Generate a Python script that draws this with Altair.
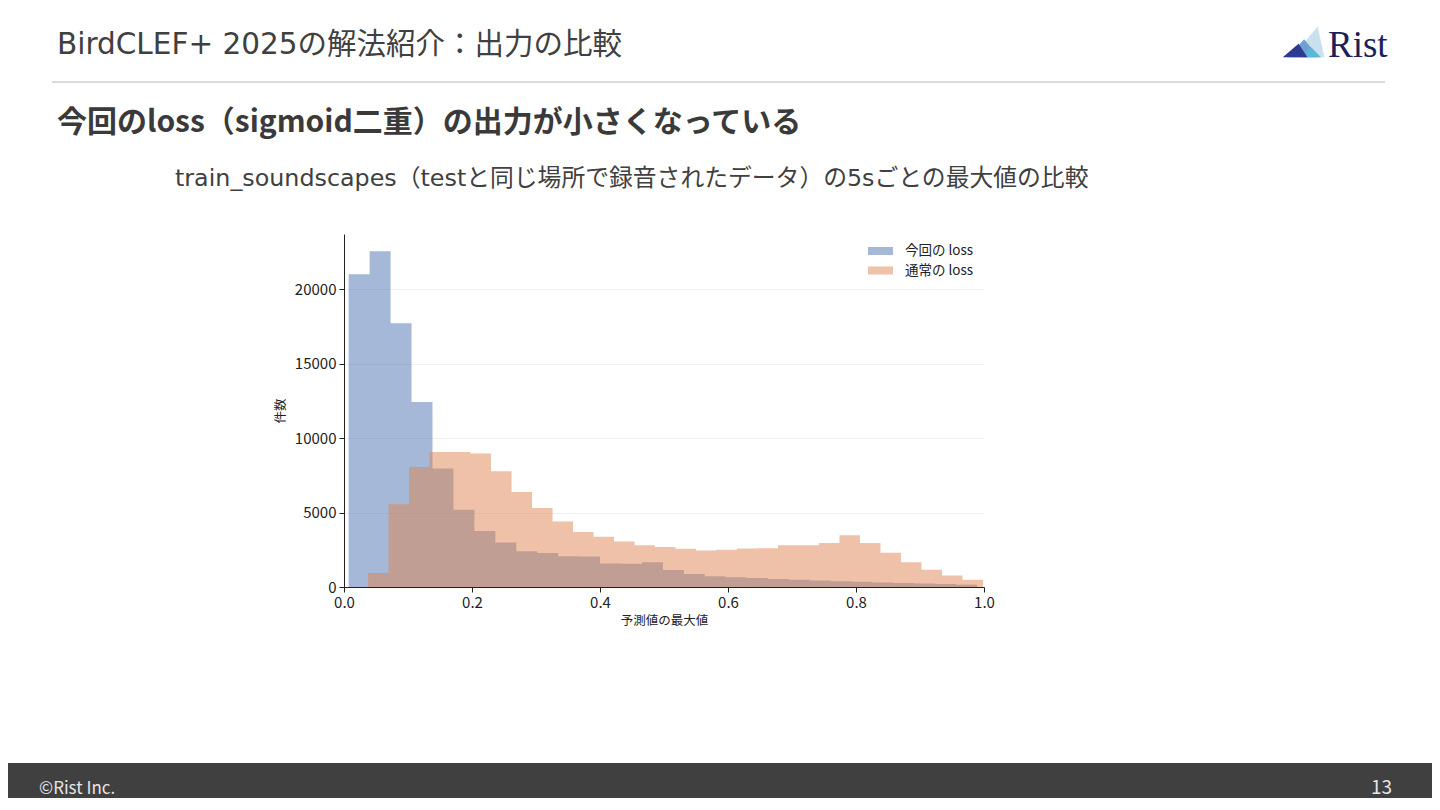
import altair as alt
import numpy as np
import pandas as pd

# ---------------- text content ----------------
slide_title = "BirdCLEF+ 2025の解法紹介：出力の比較"
heading = "今回のloss（sigmoid二重）の出力が小さくなっている"
subtitle = "train_soundscapes（testと同じ場所で録音されたデータ）の5sごとの最大値の比較"
footer_left = "©Rist Inc."
footer_right = "13"
logo_text = "Rist"
x_title = "予測値の最大値"
y_title = "件数"

# ---------------- data ----------------
series_names = ["今回の loss", "通常の loss"]
series_colors = ["#4C72B0", "#DD8452"]

# histogram: value range covered by the 30 equal-width bins, and the bin counts
blue_bin_range = [0.0073, 0.9894]
blue_counts = [21000, 22550, 17700, 12420, 7960, 5180, 3760, 2990, 2400, 2290,
               2060, 2050, 1570, 1560, 1660, 1140, 880, 720, 660, 600,
               540, 490, 430, 380, 350, 310, 270, 240, 200, 150]
orange_bin_range = [0.0376, 0.9983]
orange_counts = [940, 5550, 8060, 9070, 9070, 8960, 7770, 6380, 5300, 4400,
                 3690, 3380, 3060, 2810, 2680, 2570, 2450, 2500, 2590, 2600,
                 2800, 2810, 2950, 3480, 2950, 2300, 1670, 1160, 770, 480]

x_ticks = [0.0, 0.2, 0.4, 0.6, 0.8, 1.0]
y_ticks = [0, 5000, 10000, 15000, 20000]
y_max = 23700


def step_rows(name, rng, counts):
    edges = np.linspace(rng[0], rng[1], len(counts) + 1)
    rows = [{"series": name, "x": float(edges[i]), "count": counts[i]} for i in range(len(counts))]
    rows.append({"series": name, "x": float(edges[-1]), "count": counts[-1]})
    return rows


df = pd.DataFrame(step_rows(series_names[0], blue_bin_range, blue_counts)
                  + step_rows(series_names[1], orange_bin_range, orange_counts))

FONT = "Noto Sans CJK JP"
WIDE = "DejaVu Sans, Noto Sans CJK JP"
OX, OY = 344, 234  # slide position of the plot area's top-left corner
W, H = 640, 353

xscale = alt.Scale(domain=[0, 1], nice=False, zero=False)
yscale = alt.Scale(domain=[0, y_max], nice=False)
cscale = alt.Scale(domain=series_names, range=series_colors)

axis_common = dict(tickSize=5, labelPadding=3, domainColor="#222222", tickColor="#222222",
                   labelColor="#222222", labelFontSize=15, titleFontSize=12.5,
                   titleColor="#222222", titleFontWeight="normal", labelFont=FONT, titleFont=FONT,
                   domainWidth=1, tickWidth=1)
x_axis = alt.Axis(values=x_ticks, format=".1f", labelFlush=False, labelOverlap=False,
                  grid=False, titlePadding=4, **axis_common)
y_axis = alt.Axis(values=y_ticks, format="d", labelOverlap=False, grid=True,
                  gridColor="#ebebeb", gridWidth=0.8, titlePadding=7, **axis_common)


def hist_layer(name):
    return alt.Chart(df).transform_filter(alt.datum.series == name).mark_area(
        interpolate="step-after", opacity=0.5
    ).encode(
        x=alt.X("x:Q", scale=xscale, axis=x_axis, title=x_title),
        y=alt.Y("count:Q", scale=yscale, axis=y_axis, title=y_title, stack=None),
        color=alt.Color("series:N", scale=cscale, legend=None),
    )


def text_layer(text, x, y, size, color, weight="normal", font=FONT, align="left", baseline="alphabetic"):
    return alt.Chart(pd.DataFrame({"t": [text]})).mark_text(
        align=align, baseline=baseline, fontSize=size, font=font, fontWeight=weight, color=color
    ).encode(x=alt.value(x - OX), y=alt.value(y - OY), text="t:N")


one = pd.DataFrame({"v": [0]})

footer = alt.Chart(one).mark_rect(color="#404040").encode(
    x=alt.value(0 - OX), x2=alt.value(1440 - OX), y=alt.value(763 - OY), y2=alt.value(810 - OY)
)
separator = alt.Chart(one).mark_rule(color="#cccccc", strokeWidth=1.5).encode(
    x=alt.value(52 - OX), x2=alt.value(1385 - OX), y=alt.value(82 - OY)
)

# logo triangles (custom symbol paths in the unit box)
logo_shapes = [
    ("M0.8125,-0.844L1.1875,0.844L-0.625,0.844Z", "#c9e0ef"),
    ("M0.0625,-0.156L0.875,0.844L-0.875,0.844Z", "#6f9fd3"),
    ("M0.4375,0.281L1.0,0.844L-0.125,0.844Z", "#5cb6da"),
    ("M-0.25,0.094L-1.125,0.844L0.25,0.844Z", "#2e3a8f"),
]
logo_layers = [
    alt.Chart(one).mark_point(shape=p, size=1296, filled=True, opacity=1, color=c, strokeWidth=0).encode(
        x=alt.value(1303 - OX), y=alt.value(42 - OY)
    )
    for p, c in logo_shapes
]

# legend
legend_layers = []
for i, name in enumerate(series_names):
    cy = 251 + 19.5 * i
    legend_layers.append(
        alt.Chart(pd.DataFrame({"series": [name]})).mark_rect(opacity=0.5).encode(
            x=alt.value(868 - OX), x2=alt.value(893 - OX),
            y=alt.value(cy - 4 - OY), y2=alt.value(cy + 4 - OY),
            color=alt.Color("series:N", scale=cscale, legend=None),
        )
    )
    legend_layers.append(text_layer(name, 905, cy, 13.5, "#222222", baseline="middle"))

layers = [
    hist_layer(series_names[0]),
    hist_layer(series_names[1]),
    footer,
    separator,
    text_layer(slide_title, 57, 53.5, 29.5, "#404040", font=WIDE),
    text_layer(heading, 57, 131.5, 30, "#3a3a3a", weight="bold"),
    text_layer(subtitle, 175, 185.5, 23.8, "#404040", font=WIDE),
    text_layer(footer_left, 39, 793.5, 17, "#e6e6e6"),
    text_layer(footer_right, 1392, 793.5, 19, "#e6e6e6", align="right"),
    text_layer(logo_text, 1328, 57, 37, "#1b1f5c", font="Liberation Serif"),
] + logo_layers + legend_layers

chart = alt.layer(*layers).properties(
    width=W, height=H,
    padding={"left": OX - 8, "top": OY - 8, "right": 1424 - (OX - 8) - W, "bottom": 790 - (OY - 8) - H},
    autosize=alt.AutoSizeParams(type="none"),
    background="white",
).configure(font=FONT).configure_view(stroke=None)

chart.save("out.html", embed_options={"renderer": "svg", "actions": False})
